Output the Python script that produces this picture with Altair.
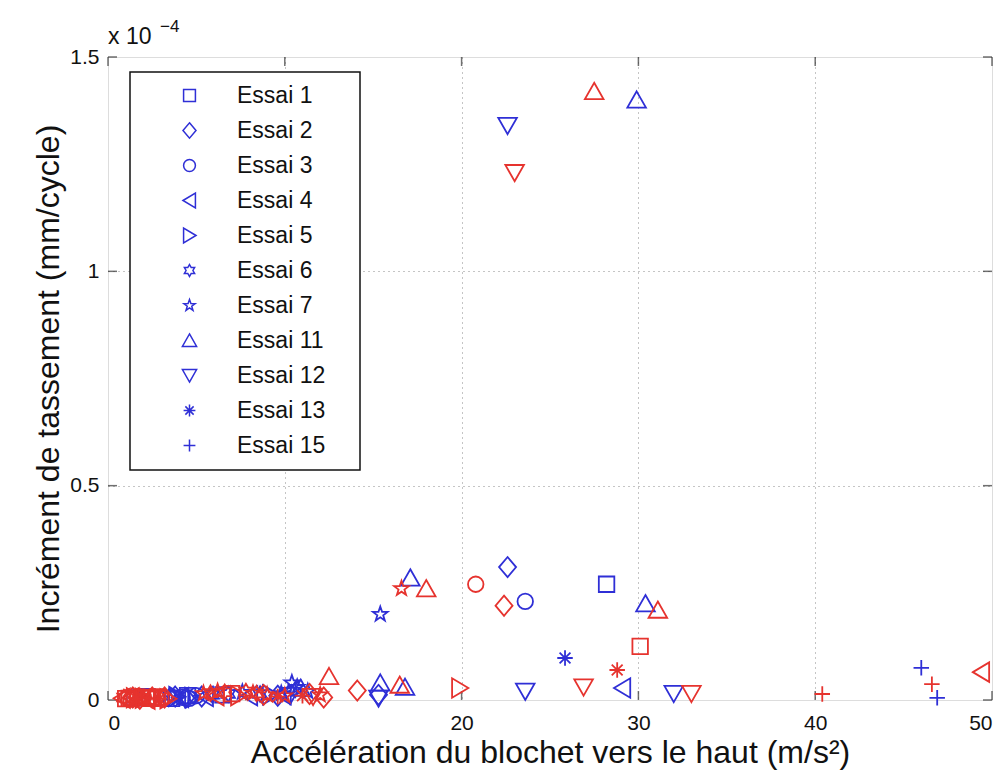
import math

import altair as alt
import pandas as pd

# ---------------------------------------------------------------------------
# Data: upward block acceleration (m/s²) vs settlement increment (×1e-4 mm/cycle)
# Each test has two series of measurements ("bleu" and "rouge").
# ---------------------------------------------------------------------------
ESSAIS = ["Essai 1", "Essai 2", "Essai 3", "Essai 4", "Essai 5", "Essai 6",
          "Essai 7", "Essai 11", "Essai 12", "Essai 13", "Essai 15"]

BLEU = {
    "Essai 1": ([28.2, 1.5, 2.2, 4.5, 6.5, 3.6], [0.27, 0.005, 0.008, 0.010, 0.012, 0.004]),
    "Essai 2": ([22.6, 15.3, 3.8, 9.6, 4.4, 5.3], [0.31, 0.012, 0.008, 0.010, 0.005, 0.008]),
    "Essai 3": ([23.6, 4.2, 5.0, 3.2, 4.6], [0.23, 0.006, 0.010, 0.005, 0.004]),
    "Essai 4": ([29.1, 5.5, 8.0, 4.1, 9.9], [0.028, 0.008, 0.010, 0.006, 0.012]),
    "Essai 5": ([4.8, 9.2, 3.9], [0.006, 0.012, 0.008]),
    "Essai 6": ([3.5, 6.8, 10.6, 5.9, 8.6], [0.010, 0.014, 0.025, 0.012, 0.014]),
    "Essai 7": ([15.4, 10.4, 7.6, 11.3, 9.8, 10.7], [0.20, 0.040, 0.018, 0.020, 0.015, 0.030]),
    "Essai 11": ([29.9, 17.1, 30.4, 15.4, 16.8, 10.9], [1.40, 0.285, 0.225, 0.040, 0.030, 0.028]),
    "Essai 12": ([22.6, 23.6, 32.0, 10.3, 15.3], [1.34, 0.020, 0.015, 0.010, 0.004]),
    "Essai 13": ([25.85, 4.0], [0.098, 0.006]),
    "Essai 15": ([46.0, 46.9], [0.075, 0.005]),
}

ROUGE = {
    "Essai 1": ([30.1, 1.2, 1.9, 2.8, 7.0, 1.0, 2.4], [0.125, 0.004, 0.006, 0.007, 0.015, 0.003, 0.004]),
    "Essai 2": ([22.4, 14.1, 1.4, 2.5, 8.8, 1.8, 3.2, 11.4, 12.2],
                [0.22, 0.022, 0.006, 0.006, 0.012, 0.003, 0.006, 0.014, 0.006]),
    "Essai 3": ([20.8, 1.1, 1.7, 2.3, 3.0, 1.3, 2.0, 2.7],
                [0.27, 0.006, 0.008, 0.005, 0.004, 0.002, 0.007, 0.006]),
    "Essai 4": ([49.4, 1.3, 6.1, 0.8, 2.2], [0.065, 0.005, 0.010, 0.004, 0.002]),
    "Essai 5": ([19.9, 2.0, 7.4, 1.5, 3.4], [0.028, 0.004, 0.010, 0.005, 0.003]),
    "Essai 6": ([0.9, 5.8, 8.4, 1.9, 6.6, 7.8], [0.006, 0.016, 0.015, 0.004, 0.018, 0.020]),
    "Essai 7": ([16.6, 12.0, 6.2, 9.0, 5.4, 8.2, 10.0], [0.26, 0.012, 0.020, 0.012, 0.015, 0.016, 0.010]),
    "Essai 11": ([27.5, 18.0, 31.1, 12.5, 16.5], [1.42, 0.26, 0.21, 0.055, 0.035]),
    "Essai 12": ([23.0, 26.9, 33.0, 11.6], [1.23, 0.030, 0.015, 0.008]),
    "Essai 13": ([28.8, 1.6, 11.0, 2.9, 9.6], [0.070, 0.004, 0.010, 0.003, 0.008]),
    "Essai 15": ([46.6, 40.4, 2.6], [0.037, 0.014, 0.003]),
}

TICKS_X = [0, 10, 20, 30, 40, 50]
TICKS_Y = [0, 0.5, 1, 1.5]

X_TITLE = "Accélération du blochet vers le haut (m/s²)"
Y_TITLE = "Incrément de tassement (mm/cycle)"

BLUE = "#2f2fd6"
RED = "#e6332e"
FONT = "Liberation Sans"


# ---------------------------------------------------------------------------
# Marker shapes (SVG paths in the [-1, 1] unit box, some slightly larger)
# ---------------------------------------------------------------------------
def star_path(n, r_in):
    pts = []
    for k in range(2 * n):
        r = 1.0 if k % 2 == 0 else r_in
        a = math.radians(-90 + k * 180.0 / n)
        pts.append(f"{r * math.cos(a):.3f},{r * math.sin(a):.3f}")
    return "M" + "L".join(pts) + "Z"


PENTAGRAM = star_path(5, 0.40)
HEXAGRAM = star_path(6, 0.58)
ASTERISK = "M-1,0H1M0,-1V1M-0.7,-0.7L0.7,0.7M-0.7,0.7L0.7,-0.7"
PLUS = "M-1,0H1M0,-1V1"
DIAMOND = "M0,-1.3L1.1,0L0,1.3L-1.1,0Z"
TRI_UP = "M0,-1.1L1.2,1L-1.2,1Z"
TRI_DOWN = "M0,1.1L1.2,-1L-1.2,-1Z"
TRI_LEFT = "M-1.1,0L1,-1.25L1,1.25Z"
TRI_RIGHT = "M1.1,0L-1,-1.25L-1,1.25Z"

SYMBOLES = ["square", DIAMOND, "circle", TRI_LEFT, TRI_RIGHT,
            HEXAGRAM, PENTAGRAM, TRI_UP, TRI_DOWN, ASTERISK, PLUS]

# ---------------------------------------------------------------------------
# Long-format table
# ---------------------------------------------------------------------------
rows = []
for groupe, series in (("bleu", BLEU), ("rouge", ROUGE)):
    for essai in ESSAIS:
        xs, ys = series[essai]
        for xv, yv in zip(xs, ys):
            rows.append({"essai": essai, "groupe": groupe, "accel": xv, "tass": yv})
df = pd.DataFrame(rows)

x_scale = alt.Scale(domain=[0, 50], nice=False, zero=False)
y_scale = alt.Scale(domain=[0, 1.5], nice=False, zero=False)

edge_x = "datum.value == 0 || datum.value == 50"
edge_y = "datum.value == 0 || datum.value == 1.5"

x_axis = alt.Axis(
    values=TICKS_X, format="d", title=X_TITLE, ticks=False, domain=False,
    grid=True, gridDash=[1, 4], gridColor="#8a8a8a", gridWidth=1,
    gridOpacity={"condition": {"test": edge_x, "value": 0}, "value": 1},
    labelFont=FONT, labelFontSize=21, labelColor="#111", labelPadding=12,
    titleFont=FONT, titleFontSize=32, titleFontWeight="normal",
    titleColor="#111", titlePadding=4,
)
y_axis = alt.Axis(
    values=TICKS_Y, format="~g", title=Y_TITLE, ticks=False, domain=False,
    grid=True, gridDash=[1, 4], gridColor="#8a8a8a", gridWidth=1,
    gridOpacity={"condition": {"test": edge_y, "value": 0}, "value": 1},
    labelFont=FONT, labelFontSize=21, labelColor="#111", labelPadding=9,
    titleFont=FONT, titleFontSize=32, titleFontWeight="normal",
    titleColor="#111", titlePadding=4,
)


def X():
    return alt.X("accel:Q", scale=x_scale, axis=x_axis)


def Y():
    return alt.Y("tass:Q", scale=y_scale, axis=y_axis)


points = alt.Chart(df).mark_point(filled=False, strokeWidth=1.8, size=240, opacity=1).encode(
    x=X(),
    y=Y(),
    shape=alt.Shape(
        "essai:N",
        scale=alt.Scale(domain=ESSAIS, range=SYMBOLES),
        sort=ESSAIS,
        legend=alt.Legend(
            title=None, orient="none", legendX=22, legendY=13,
            strokeColor="transparent", fillColor="transparent", padding=14,
            symbolStrokeColor=BLUE, symbolFillColor="transparent",
            symbolStrokeWidth=1.5, symbolSize=140, symbolOffset=34,
            labelFont=FONT, labelFontSize=23, labelColor="#111",
            labelOffset=36, rowPadding=11,
        ),
    ),
    color=alt.Color(
        "groupe:N",
        scale=alt.Scale(domain=["bleu", "rouge"], range=[BLUE, RED]),
        legend=None,
    ),
)

# Framed white box behind the legend entries
legend_box = alt.Chart(pd.DataFrame({"k": [0]})).mark_rect(
    fill="white", stroke="#111", strokeWidth=1.5
).encode(x=alt.value(22), x2=alt.value(252), y=alt.value(15), y2=alt.value(413))

# Inward tick marks on all four sides of the frame
tick_style = dict(color="#333", thickness=1.5, size=9)
t_bottom = alt.Chart(pd.DataFrame({"accel": TICKS_X, "tass": 0})).mark_tick(
    orient="vertical", yOffset=-4.5, **tick_style).encode(x=X(), y=Y())
t_top = alt.Chart(pd.DataFrame({"accel": TICKS_X, "tass": 1.5})).mark_tick(
    orient="vertical", yOffset=4.5, **tick_style).encode(x=X(), y=Y())
t_left = alt.Chart(pd.DataFrame({"accel": 0, "tass": TICKS_Y})).mark_tick(
    orient="horizontal", xOffset=4.5, **tick_style).encode(x=X(), y=Y())
t_right = alt.Chart(pd.DataFrame({"accel": 50, "tass": TICKS_Y})).mark_tick(
    orient="horizontal", xOffset=-4.5, **tick_style).encode(x=X(), y=Y())

# Axis multiplier "x 10^-4" above the y axis
mult = alt.Chart(pd.DataFrame({"t": ["x 10"]})).mark_text(
    align="left", baseline="alphabetic", font=FONT, fontSize=23, color="#111"
).encode(x=alt.value(0), y=alt.value(-13), text="t:N")
expo = alt.Chart(pd.DataFrame({"t": ["−4"]})).mark_text(
    align="left", baseline="alphabetic", font=FONT, fontSize=17, color="#111"
).encode(x=alt.value(52), y=alt.value(-25), text="t:N")

chart = alt.layer(t_bottom, t_top, t_left, t_right, legend_box, points, mult, expo).properties(
    width=884,
    height=643,
    autosize=alt.AutoSizeParams(type="none"),
    padding={"left": 108, "top": 57, "right": 15, "bottom": 73},
).configure_view(
    stroke="#3a3a3a", strokeWidth=2.4
).configure(
    background="white"
)

chart.save("out.html", embed_options={"renderer": "svg", "actions": False})
